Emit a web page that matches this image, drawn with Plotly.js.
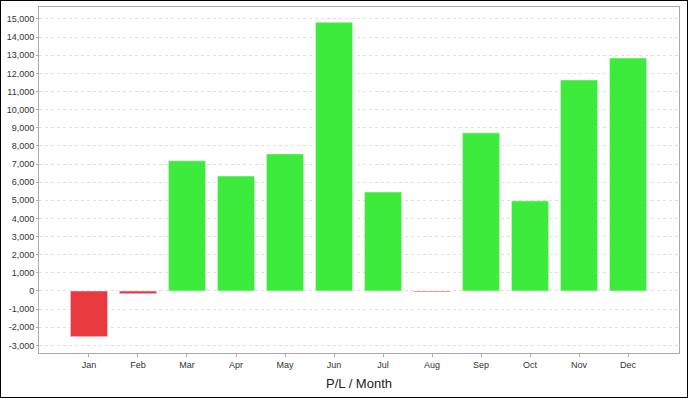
<!DOCTYPE html>
<html><head><meta charset="utf-8">
<script src="https://cdn.plot.ly/plotly-3.0.1.min.js"></script>
<style>
html,body{margin:0;padding:0;background:#fff;}
#wrap{position:relative;width:688px;height:398px;}
#chart{width:688px;height:398px;}
#frame{position:absolute;left:0;top:0;width:688px;height:398px;box-sizing:border-box;border:1px solid #000;pointer-events:none;}
</style></head>
<body>
<div id="wrap"><div id="chart"></div><div id="frame"></div></div>
<script>
const months = ['Jan','Feb','Mar','Apr','May','Jun','Jul','Aug','Sep','Oct','Nov','Dec'];
const pl = [-2520, -150, 7180, 6340, 7560, 14820, 5460, -50, 8720, 4970, 11640, 12850];
const yTicks = [-3000,-2000,-1000,0,1000,2000,3000,4000,5000,6000,7000,8000,9000,10000,11000,12000,13000,14000,15000];
const yTickText = yTicks.map(v => (v < 0 ? '-' : '') + Math.abs(v).toLocaleString('en-US'));
const colors = pl.map(v => v < 0 ? '#e8393e' : '#3deb3d');

Plotly.newPlot('chart', [{
  type: 'bar',
  x: months,
  y: pl,
  width: 0.76,
  marker: {color: colors, line: {color: 'rgba(255,255,255,0.5)', width: 1}},
  hoverinfo: 'x+y'
}], {
  width: 688, height: 398,
  margin: {l: 39, r: 9, t: 7, b: 45},
  paper_bgcolor: '#fff', plot_bgcolor: '#fff',
  font: {family: 'Liberation Sans, Arial, sans-serif', color: '#333', size: 9},
  showlegend: false,
  xaxis: {
    type: 'category',
    range: [-1.02, 12.04],
    showline: true, mirror: true, linecolor: '#aaa', linewidth: 1,
    ticks: 'outside', ticklen: 3, tickcolor: '#aaa',
    showgrid: false, zeroline: false,
    tickfont: {size: 9, color: '#333'},
    title: {text: 'P/L / Month', font: {size: 13, color: '#222'}, standoff: 10}
  },
  yaxis: {
    range: [-3420, 15660],
    tickvals: yTicks, ticktext: yTickText,
    showline: true, mirror: true, linecolor: '#aaa', linewidth: 1,
    ticks: 'outside', ticklen: 2, tickcolor: '#aaa',
    showgrid: true, gridcolor: '#e0e0e0', griddash: '3px,3px', gridwidth: 1,
    zeroline: false,
    tickfont: {size: 9, color: '#333'}
  }
}, {displayModeBar: false, staticPlot: true});
</script>
</body></html>
